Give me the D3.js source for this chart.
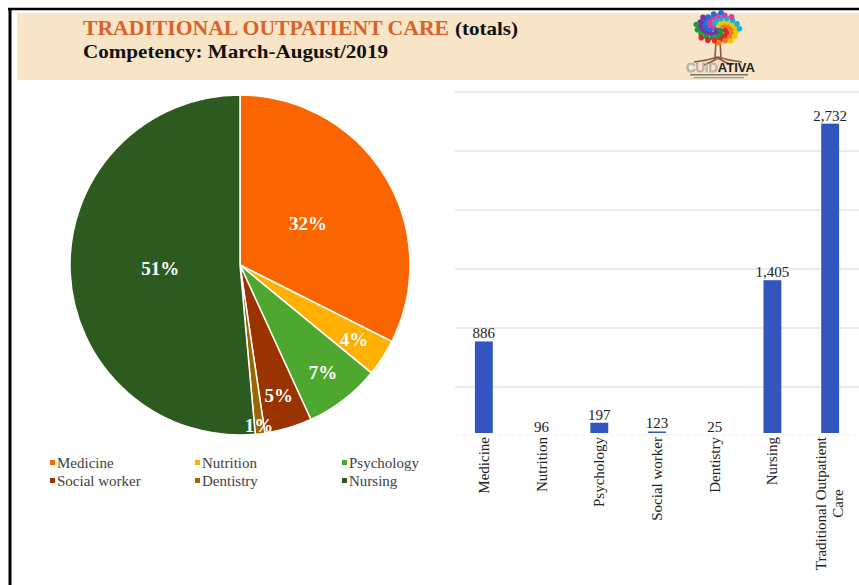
<!DOCTYPE html>
<html>
<head>
<meta charset="utf-8">
<script src="https://cdn.jsdelivr.net/npm/d3@7"></script>
<style>
  body { margin: 0; background: #fff; }
  svg { display: block; }
</style>
</head>
<body>
<div id="chart"></div>
<script>
// data
const categories = ["Medicine", "Nutrition", "Psychology", "Social worker", "Dentistry", "Nursing"];
const totals = [886, 96, 197, 123, 25, 1405];
const barCategories = ["Medicine", "Nutrition", "Psychology", "Social worker", "Dentistry", "Nursing", "Traditional Outpatient Care"];
const barValues = [886, 96, 197, 123, 25, 1405, 2732];
const gridTicks = [500, 1000, 1500, 2000, 2500, 3000];

const width = 859;
const height = 585;
const serif = "Garamond, 'Liberation Serif', 'DejaVu Serif', serif";

const svg = d3.select("#chart")
  .append("svg")
  .attr("width", width)
  .attr("height", height);

// frame + header band
svg.append("rect").attr("x", 17).attr("y", 13).attr("width", width - 17).attr("height", 67).attr("fill", "#f8e4c6");
svg.append("line").attr("x1", 8).attr("x2", width).attr("y1", 9).attr("y2", 9)
  .attr("stroke", "#000").attr("stroke-width", 2.5);
svg.append("line").attr("x1", 10).attr("x2", 10).attr("y1", 8).attr("y2", height)
  .attr("stroke", "#000").attr("stroke-width", 3);

const title = svg.append("text")
  .attr("y", 35)
  .attr("font-family", serif)
  .attr("font-weight", "bold");
title.append("tspan")
  .attr("x", 83)
  .attr("font-size", 20)
  .attr("fill", "#d9622b")
  .attr("textLength", 366)
  .attr("lengthAdjust", "spacingAndGlyphs")
  .text("TRADITIONAL OUTPATIENT CARE");
title.append("tspan")
  .attr("x", 455)
  .attr("font-size", 19)
  .attr("fill", "#111")
  .attr("textLength", 63)
  .attr("lengthAdjust", "spacingAndGlyphs")
  .text("(totals)");

svg.append("text")
  .attr("x", 83).attr("y", 58)
  .attr("font-family", serif)
  .attr("font-weight", "bold")
  .attr("font-size", 18)
  .attr("fill", "#111")
  .attr("textLength", 305)
  .attr("lengthAdjust", "spacingAndGlyphs")
  .text("Competency: March-August/2019");

// logo (rough sketch of the tree)
const logo = svg.append("g").attr("transform", "translate(718,30)");
logo.append("path")
  .attr("d", "M-2,10 L-3,28 M2,10 L3,28 M0,27 Q-12,31 -24,32 M0,27 Q12,31 24,32 M0,28 Q-6,32 -14,35 M0,28 Q6,32 14,35")
  .attr("stroke", "#8a5a44").attr("stroke-width", 1.6).attr("fill", "none");
const dotColors = ["#e3262b", "#1f6fd1", "#f2c500", "#1e9a3c", "#e5399b", "#f07a1a", "#7b2fa8", "#17b3d6"];
const dots = d3.range(60).map(i => {
  const a = i * 2.39996;
  const r = 2.9 * Math.sqrt(i);
  return { x: r * Math.cos(a) * 1.0, y: r * Math.sin(a) * 0.7 - 2, c: dotColors[i % dotColors.length] };
});
logo.selectAll("circle").data(dots).join("circle")
  .attr("cx", d => d.x).attr("cy", d => d.y).attr("r", 2.8)
  .attr("fill", d => d.c);
const logoText = svg.append("text")
  .attr("x", 686).attr("y", 72)
  .attr("font-family", "'Liberation Sans', Arial, sans-serif")
  .attr("font-size", 13);
logoText.append("tspan").attr("fill", "#f4f0ea").attr("stroke", "#888").attr("stroke-width", 0.6).text("CUID");
logoText.append("tspan").attr("fill", "#222").attr("font-weight", "bold").text("ATIVA");
svg.append("rect").attr("x", 690).attr("y", 74).attr("width", 58).attr("height", 1.5).attr("fill", "#777");
svg.append("rect").attr("x", 694).attr("y", 77).attr("width", 50).attr("height", 1.2).attr("fill", "#999");

// pie
const pieColors = ["#fa6500", "#ffb000", "#4ea72e", "#993300", "#9c6500", "#2c5a1f"];
const cx = 240, cy = 265, radius = 170;
const total = d3.sum(totals);
const pie = d3.pie().sort(null)(totals);
const arc = d3.arc().innerRadius(0).outerRadius(radius);

const pieG = svg.append("g").attr("transform", `translate(${cx},${cy})`);
pieG.selectAll("path")
  .data(pie)
  .join("path")
  .attr("d", arc)
  .attr("fill", (d, i) => pieColors[i])
  .attr("stroke", "#fff")
  .attr("stroke-width", 1.5)
  .attr("stroke-linejoin", "round");

pieG.selectAll("text.pct")
  .data(pie)
  .join("text")
  .attr("class", "pct")
  .attr("transform", d => {
    const share = d.value / total;
    const k = share > 0.2 ? 0.47 : share < 0.02 ? 0.95 : 0.8;
    const c = d3.arc().innerRadius(radius * k).outerRadius(radius * k).centroid(d);
    return `translate(${c[0]},${c[1]})`;
  })
  .attr("text-anchor", "middle")
  .attr("dominant-baseline", "central")
  .attr("font-family", serif)
  .attr("font-weight", "bold")
  .attr("font-size", 19)
  .attr("fill", "#fff")
  .text(d => d3.format(".0%")(d.value / total));

// pie legend
const legendCols = [50, 195, 342];
const legend = svg.append("g")
  .selectAll("g")
  .data(categories)
  .join("g")
  .attr("transform", (d, i) => `translate(${legendCols[i % 3]},${463 + Math.floor(i / 3) * 18})`);
legend.append("rect")
  .attr("x", 0).attr("y", -3).attr("width", 5).attr("height", 5)
  .attr("fill", (d, i) => pieColors[i]);
legend.append("text")
  .attr("x", 7).attr("y", 0)
  .attr("dominant-baseline", "central")
  .attr("font-family", serif)
  .attr("font-size", 15)
  .attr("fill", "#404040")
  .text(d => d);

// bar chart
const x = d3.scaleBand()
  .domain(barCategories)
  .range([455, 859])
  .paddingInner(0.69)
  .paddingOuter(0.345);
const y = d3.scaleLinear()
  .domain([0, 3000])
  .range([446, 92]);
const plotBottom = 433;

svg.append("g")
  .selectAll("line")
  .data(gridTicks)
  .join("line")
  .attr("x1", 455).attr("x2", 859)
  .attr("y1", d => y(d)).attr("y2", d => y(d))
  .attr("stroke", "#e6e6e6")
  .attr("stroke-width", 1.5);

svg.append("defs").append("clipPath").attr("id", "plot-clip")
  .append("rect").attr("x", 455).attr("y", 85).attr("width", 404).attr("height", plotBottom - 85);

svg.append("g")
  .attr("clip-path", "url(#plot-clip)")
  .selectAll("rect")
  .data(barValues)
  .join("rect")
  .attr("x", (d, i) => x(barCategories[i]))
  .attr("width", x.bandwidth())
  .attr("y", d => y(d))
  .attr("height", d => y(0) - y(d))
  .attr("fill", "#3256be");

svg.append("line")
  .attr("x1", 455).attr("x2", 859).attr("y1", plotBottom + 2).attr("y2", plotBottom + 2)
  .attr("stroke", "#eee").attr("stroke-dasharray", "4,3");

svg.append("g")
  .selectAll("text")
  .data(barValues)
  .join("text")
  .attr("x", (d, i) => x(barCategories[i]) + x.bandwidth() / 2)
  .attr("y", d => Math.min(y(d) - 3, 432))
  .attr("text-anchor", "middle")
  .attr("font-family", serif)
  .attr("font-size", 15)
  .attr("fill", "#222")
  .text(d => d3.format(",")(d));

// rotated category labels (wrap the long one)
const labelTop = 437;
barCategories.forEach(name => {
  const lines = name === "Traditional Outpatient Care" ? ["Traditional Outpatient", "Care"] : [name];
  const xc = x(name) + x.bandwidth() / 2;
  const g = svg.append("g");
  const texts = lines.map((line, j) => g.append("text")
    .attr("font-family", serif)
    .attr("font-size", 15)
    .attr("fill", "#222")
    .attr("text-anchor", "middle")
    .attr("dominant-baseline", "central")
    .text(line));
  const longest = d3.max(texts, t => t.node().getComputedTextLength());
  texts.forEach((t, j) => {
    const off = (j - (lines.length - 1) / 2) * 17 - (lines.length > 1 ? 1 : 0);
    t.attr("transform", `translate(${xc + off},${labelTop + longest / 2}) rotate(-90)`);
  });
});
</script>
</body>
</html>
